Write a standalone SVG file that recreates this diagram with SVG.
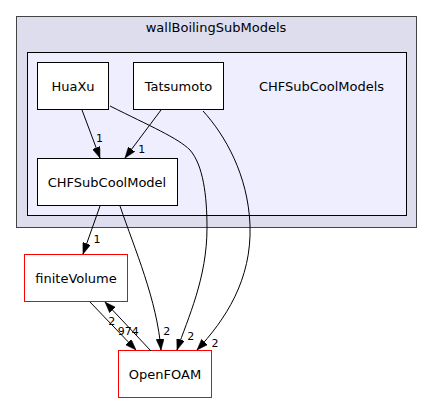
<svg xmlns="http://www.w3.org/2000/svg" width="433" height="404" viewBox="0 0 433 404">
<style>
text{font-family:"DejaVu Sans","Liberation Sans",sans-serif;fill:#000}
.nl{font-size:13px;text-anchor:middle}
.el{font-size:11px;text-anchor:middle}
.node{fill:#fff;stroke:#000;stroke-width:1}
.ext{fill:#fff;stroke:#ff0000;stroke-width:1}
.edge{fill:none;stroke:#000;stroke-width:1;marker-end:url(#arr)}
</style>
<defs>
<marker id="arr" viewBox="0 0 11 8" refX="11" refY="4" markerWidth="11" markerHeight="8" markerUnits="userSpaceOnUse" orient="auto">
<path d="M0,0 L11,4 L0,8 z" fill="#000" stroke="#000" stroke-width="0.5"/>
</marker>
</defs>
<rect width="433" height="404" fill="#fff"/>
<g id="cluster_wallBoilingSubModels">
<rect x="16.5" y="16.5" width="400" height="211" fill="#ddddee" stroke="#444" stroke-width="1"/>
<text class="nl" x="216" y="32">wallBoilingSubModels</text>
</g>
<g id="cluster_CHFSubCoolModels">
<rect x="27.5" y="52.5" width="379" height="163" fill="#eeeeff" stroke="#000" stroke-width="1"/>
<text class="nl" x="321.5" y="90.5">CHFSubCoolModels</text>
</g>
<g id="node_HuaXu">
<rect class="node" x="37.5" y="62.5" width="71" height="47"/>
<text class="nl" x="73" y="90.5">HuaXu</text>
</g>
<g id="node_Tatsumoto">
<rect class="node" x="133.5" y="62.5" width="90" height="47"/>
<text class="nl" x="178.5" y="90.5">Tatsumoto</text>
</g>
<g id="node_CHFSubCoolModel">
<rect class="node" x="37.5" y="158.5" width="140" height="47"/>
<text class="nl" x="107" y="186.5">CHFSubCoolModel</text>
</g>
<g id="node_finiteVolume">
<rect class="ext" x="24.5" y="254.5" width="103" height="47"/>
<text class="nl" x="76" y="282.5">finiteVolume</text>
</g>
<g id="node_OpenFOAM">
<rect class="ext" x="118.5" y="350.5" width="93" height="47"/>
<text class="nl" x="165" y="378.5">OpenFOAM</text>
</g>
<g id="connectors">
<path class="edge" d="M82,110 L100,158"/>
<text class="el" x="99.5" y="141.7">1</text>
<path class="edge" d="M161,110 L125,158"/>
<text class="el" x="141.7" y="153.3">1</text>
<path class="edge" d="M100,206 L83,254"/>
<text class="el" x="97" y="243.3">1</text>
<path class="edge" d="M120,206 C135,250 157,300 161,350"/>
<text class="el" x="166.7" y="335">2</text>
<path class="edge" d="M110,106 C150,126 178,138 190,150 C203,165 207,195 207,228 C207,278 188,318 177,350"/>
<text class="el" x="190.7" y="340">2</text>
<path class="edge" d="M203,111 C225,135 248,175 250,225 C252,280 225,320 197,350"/>
<text class="el" x="215" y="346.7">2</text>
<path class="edge" d="M90,302 L136,350"/>
<text class="el" x="111.7" y="325">2</text>
<path class="edge" d="M151,351 L105,302"/>
<text class="el" x="128.3" y="335">974</text>
</g>
</svg>
